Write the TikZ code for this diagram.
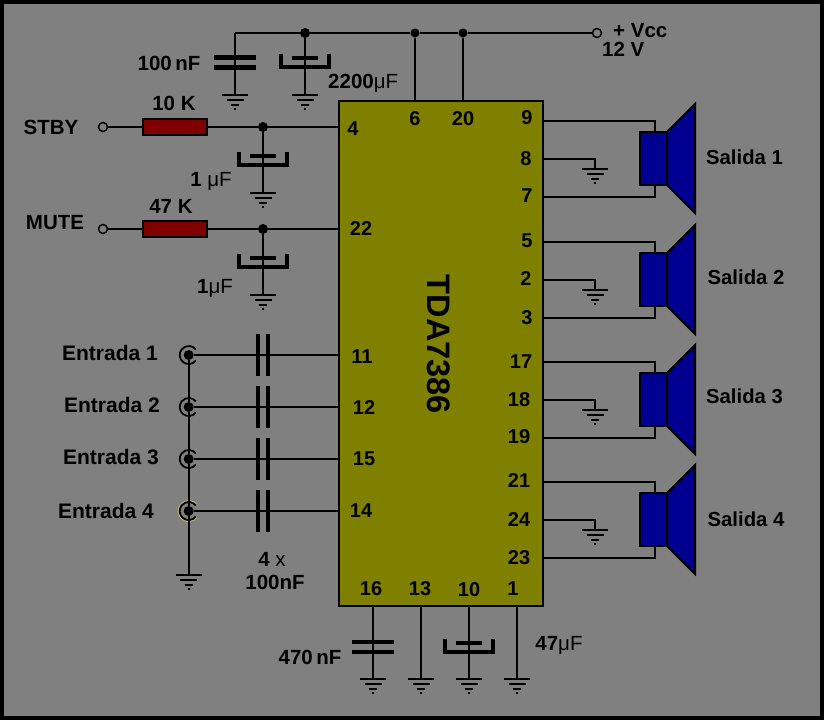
\documentclass[tikz,border=0pt]{standalone}
\usepackage{fontspec}
\setmainfont{Liberation Sans}
\definecolor{bggray}{HTML}{808080}
\definecolor{chipolive}{HTML}{808000}
\definecolor{resred}{HTML}{800000}
\definecolor{spkblue}{HTML}{000090}
\definecolor{ringyellow}{HTML}{B0B060}
\tikzset{
  wire/.style={line width=2pt,black},
  plate/.style={line width=4.4pt,black},
  polarplate/.style={line width=4pt,black},
  jdot/.style={circle,fill=black,inner sep=0pt,minimum size=10pt},
  opencirc/.style={circle,draw=black,line width=1.5pt,fill=bggray,inner sep=0pt,minimum size=9pt},
  lbl/.style={font=\fontsize{20.5}{21}\selectfont\bfseries,inner sep=0pt},
  lble/.style={font=\fontsize{21}{22}\selectfont\bfseries,inner sep=0pt},
  lbls/.style={font=\fontsize{20.3}{21}\selectfont\bfseries,inner sep=0pt},
  pin/.style={font=\fontsize{20}{20}\selectfont\bfseries,inner sep=0pt},
  resbox/.style={draw=black,line width=2pt,fill=resred,outer sep=0pt,minimum width=64pt,minimum height=16pt,inner sep=0pt},
  pics/gnd/.style={code={
    \draw[line width=2pt] (-13,0) -- (13,0);
    \draw[line width=2pt] (-8.5,5) -- (8.5,5);
    \draw[line width=2pt] (-4,9.5) -- (4,9.5);
    \fill (-1,12.5) rectangle (1,14.5);
  }},
  pics/vcap/.style={code={
    \draw[plate] (-21,-5) -- (21,-5);
    \draw[plate] (-21,5) -- (21,5);
  }},
  pics/hcap/.style={code={
    \draw[plate] (-5,-21) -- (-5,21);
    \draw[plate] (5,-21) -- (5,21);
  }},
  pics/polcap/.style={code={
    \draw[polarplate] (-13,-4.5) -- (13,-4.5);
    \draw[polarplate,line cap=butt] (-24,-9) -- (-24,4.5) -- (24,4.5) -- (24,-9);
  }},
  pics/speaker/.style={code={
    \draw[line width=2pt,fill=spkblue,line join=miter] (0,0) -- (28,-28) -- (28,81) -- (0,53) -- cycle;
    \draw[line width=2pt,fill=spkblue] (-27,0) rectangle (0,53);
  }},
  pics/jack/.style={code={
    \draw[line width=1.8pt,black] (38:9) arc (38:322:9);
  }},
  pics/jackhalo/.style={code={
    \draw[line width=1.2pt,ringyellow] (38:10.5) arc (38:322:10.5);
    \draw[line width=1.8pt,black] (38:9) arc (38:322:9);
  }}
}
\begin{document}
\begin{tikzpicture}[x=1pt,y=-1pt]
\useasboundingbox (0,0) rectangle (824,720);
\fill[black] (0,0) rectangle (824,720);
\fill[bggray] (4,4) rectangle (820,716);

% chip
\node[draw=black,line width=2pt,fill=chipolive,outer sep=0pt,minimum width=204pt,minimum height=505pt,inner sep=0pt,anchor=north west] (chip) at (339,101) {};
\node[rotate=-90,font=\fontsize{32.5}{33}\selectfont\bfseries,inner sep=0pt] (tda) at (439,344.5) {TDA7386};

% supply rail
\coordinate (railL) at (235,33);
\node[jdot] (j1) at (305,33) {};
\node[jdot,minimum size=9pt] (j2) at (415,33) {};
\node[jdot,minimum size=9pt] (j3) at (463,33) {};
\node[opencirc] (vcc) at (597,33) {};
\draw[wire] (railL) -- (j1) -- (j2) -- (j3) -- (vcc);
\coordinate (p6) at (415,101);
\coordinate (p20) at (463,101);
\draw[wire] (j2) -- (p6);
\draw[wire] (j3) -- (p20);
\coordinate (g1) at (235,95);
\coordinate (g2) at (305,95);
\draw[wire] (railL) -- (g1);
\draw[wire] (j1) -- (g2);
\pic at (235,62.5) {vcap};
\pic at (305,62.5) {polcap};
\pic at (g1) {gnd};
\pic at (g2) {gnd};

% STBY
\node[opencirc] (stby) at (103,127) {};
\node[resbox] (r1) at (175,127) {};
\node[jdot] (j4) at (263,127) {};
\coordinate (p4) at (339,127);
\coordinate (g3) at (263,193);
\draw[wire] (stby) -- (r1) -- (j4) -- (p4);
\draw[wire] (j4) -- (g3);
\pic at (263,160.5) {polcap};
\pic at (g3) {gnd};

% MUTE
\node[opencirc] (mute) at (103,229) {};
\node[resbox] (r2) at (175,229) {};
\node[jdot] (j5) at (263,229) {};
\coordinate (p22) at (339,229);
\coordinate (g4) at (263,295);
\draw[wire] (mute) -- (r2) -- (j5) -- (p22);
\draw[wire] (j5) -- (g4);
\pic at (263,262.5) {polcap};
\pic at (g4) {gnd};

% inputs
\foreach \n/\y/\style in {1/355/jack,2/407/jack,3/459/jack,4/511/jackhalo}{
  \node[jdot] (in\n) at (188.7,\y) {};
  \coordinate (pin\n) at (339,\y);
  \draw[wire] (in\n) -- (pin\n);
  \pic at (263,\y) {hcap};
  \pic at (188.7,\y) {\style};
}
\coordinate (g5) at (188.7,575);
\draw[wire] (in1) -- (in2) -- (in3) -- (in4) -- (g5);
\pic at (g5) {gnd};

% speakers
\foreach \n/\o in {1/0,2/121,3/241,4/361}{
  \coordinate (top\n) at (543,121+\o);
  \coordinate (mid\n) at (543,159+\o);
  \coordinate (bot\n) at (543,197+\o);
  \coordinate (gs\n) at (595,169+\o);
  \coordinate (st\n) at (655,132+\o);
  \coordinate (sb\n) at (655,185+\o);
  \draw[wire] (top\n) -| (st\n);
  \draw[wire] (bot\n) -| (sb\n);
  \draw[wire] (mid\n) -| (gs\n);
  \pic at (gs\n) {gnd};
  \pic at (667,132+\o) {speaker};
}

% bottom pins
\foreach \n/\x in {16/373,13/421,10/469,1/517}{
  \coordinate (b\n) at (\x,606);
  \coordinate (gb\n) at (\x,679);
  \draw[wire] (b\n) -- (gb\n);
  \pic at (gb\n) {gnd};
}
\pic at (373,647) {vcap};
\pic at (469,647.5) {polcap};

% labels
\node[lbl,anchor=west] (tvcc) at (613,31) {+ Vcc};
\node[lbl,anchor=west] (t12) at (602,49) {12 V};
\node[lbl] (t100) at (169,63) {100\,nF};
\node[lbl,anchor=west] (t2200) at (328,83) {2200\textmd{μF}};
\node[lbl] (t10k) at (174,103) {10 K};
\node[lbl] (tstby) at (51,127) {STBY};
\node[lbl] (t1u1) at (211,181) {1 \textmd{μF}};
\node[lbl] (t47k) at (171,206) {47 K};
\node[lbl] (tmute) at (55,223) {MUTE};
\node[lbl] (t1u2) at (215,288) {1\textmd{μF}};
\node[lble] (te1) at (110,353) {Entrada 1};
\node[lble] (te2) at (112,405) {Entrada 2};
\node[lble] (te3) at (111,457) {Entrada 3};
\node[lble] (te4) at (106,511) {Entrada 4};
\node[lbl] (t4x) at (272,559) {4 \textmd{x}};
\node[lbl] (t100b) at (275,582) {100nF};
\node[lbl] (t470) at (310,657) {470\,nF};
\node[lbl] (t47u) at (559,645) {47\textmd{μF}};
\node[lbls] (ts1) at (744.5,157) {Salida 1};
\node[lbls] (ts2) at (746,277) {Salida 2};
\node[lbls] (ts3) at (744.5,396) {Salida 3};
\node[lbls] (ts4) at (746,519) {Salida 4};

% pin numbers
\node[pin] (n4) at (353,129) {4};
\node[pin] (n6) at (415,119) {6};
\node[pin] (n20) at (463,119) {20};
\node[pin] (n22) at (361,229) {22};
\node[pin] (n11) at (362,357) {11};
\node[pin] (n12) at (364,408) {12};
\node[pin] (n15) at (364,459) {15};
\node[pin] (n14) at (361,511) {14};
\node[pin] (n9) at (527,118) {9};
\node[pin] (n8) at (526,159) {8};
\node[pin] (n7) at (527,196) {7};
\node[pin] (n5) at (527,241) {5};
\node[pin] (n2) at (526,279) {2};
\node[pin] (n3) at (527,318) {3};
\node[pin] (n17) at (521,362) {17};
\node[pin] (n18) at (519,400) {18};
\node[pin] (n19) at (519,437) {19};
\node[pin] (n21) at (519,481) {21};
\node[pin] (n24) at (519,520) {24};
\node[pin] (n23) at (519,558) {23};
\node[pin] (n16) at (371,589) {16};
\node[pin] (n13) at (420,589) {13};
\node[pin] (n10) at (469,590) {10};
\node[pin] (n1) at (513,589) {1};
\end{tikzpicture}
\end{document}
